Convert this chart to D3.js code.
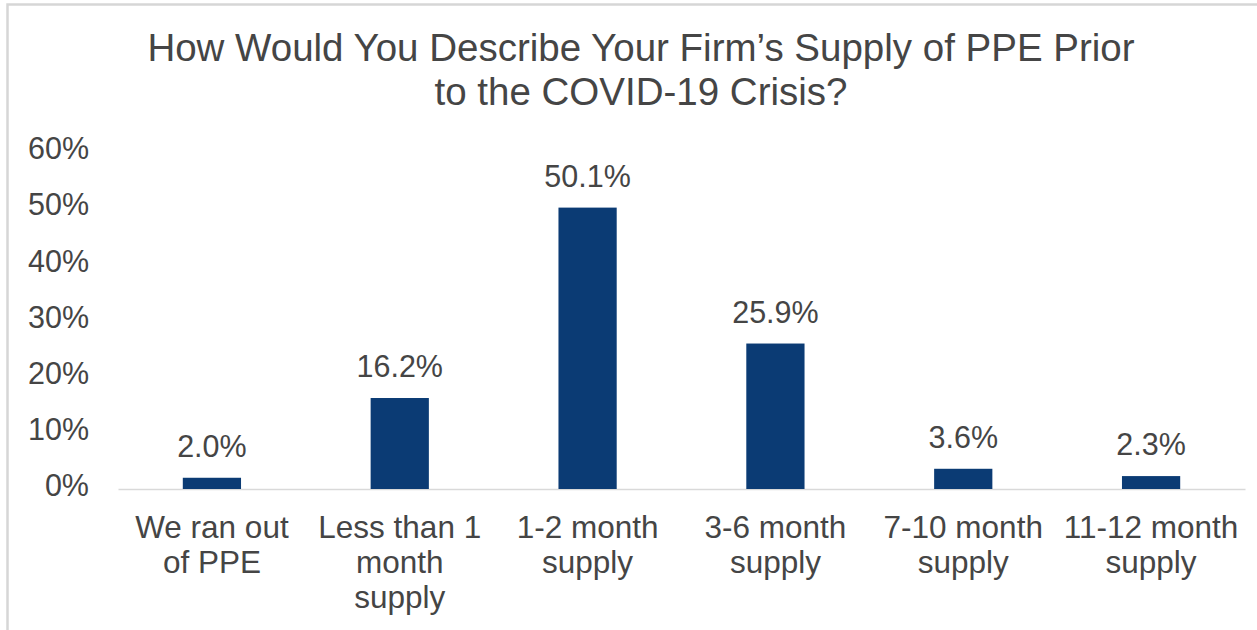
<!DOCTYPE html>
<html>
<head>
<meta charset="utf-8">
<script src="https://cdn.jsdelivr.net/npm/d3@7"></script>
<style>
  html, body { margin: 0; padding: 0; background: #fff; }
  svg { display: block; font-family: "Liberation Sans", Arial, sans-serif; }
</style>
</head>
<body>
<svg id="chart" width="1257" height="630"></svg>
<script>
// ---- data ----
const titleLines = ["How Would You Describe Your Firm\u2019s Supply of PPE Prior", "to the COVID-19 Crisis?"];
const categories = ["We ran out of PPE", "Less than 1 month supply", "1-2 month supply", "3-6 month supply", "7-10 month supply", "11-12 month supply"];
const categoryLines = [
  ["We ran out", "of PPE"],
  ["Less than 1", "month", "supply"],
  ["1-2 month", "supply"],
  ["3-6 month", "supply"],
  ["7-10 month", "supply"],
  ["11-12 month", "supply"]
];
const values = [2.0, 16.2, 50.1, 25.9, 3.6, 2.3];
const yTicks = [0, 10, 20, 30, 40, 50, 60];

// ---- layout ----
const svg = d3.select("#chart");
const W = 1257, H = 630;
const plotLeft = 118, plotRight = 1245, plotTop = 152, plotBottom = 489;
const textColor = "#454545";
const barColor = "#0b3b74";

// frame
svg.append("rect").attr("x", 7.5).attr("y", 4.5).attr("width", W + 10).attr("height", H + 10)
  .attr("fill", "none").attr("stroke", "#d6d6d6").attr("stroke-width", 2.5);

// title
svg.append("text")
  .attr("text-anchor", "middle")
  .attr("fill", textColor)
  .attr("font-size", 38.5)
  .selectAll("tspan").data(titleLines).join("tspan")
  .attr("x", 641).attr("y", (d, i) => 61 + i * 44)
  .text(d => d);

const x = d3.scaleBand().domain(categories).range([plotLeft, plotRight]).paddingInner(0.69).paddingOuter(0.345);
const y = d3.scaleLinear().domain([0, 60]).range([plotBottom, plotTop]);

// y axis
const yAxis = svg.append("g").attr("transform", `translate(${plotLeft},0)`)
  .call(d3.axisLeft(y).tickValues(yTicks).tickSize(0).tickPadding(29).tickFormat(d => d + "%"));
yAxis.select(".domain").remove();
yAxis.selectAll("text").attr("font-size", 30.5).attr("fill", textColor)
  .attr("font-family", "Liberation Sans, Arial, sans-serif").attr("dy", "0.22em");

// x axis baseline
const xAxis = svg.append("g").attr("transform", `translate(0,${plotBottom})`)
  .call(d3.axisBottom(x).tickSize(0).tickFormat(""));
xAxis.select(".domain").attr("stroke", "#d9d9d9").attr("stroke-width", 1.5);
xAxis.selectAll(".tick").remove();

// bars
svg.append("g").selectAll("rect").data(values).join("rect")
  .attr("x", (d, i) => x(categories[i]))
  .attr("width", x.bandwidth())
  .attr("y", d => y(d))
  .attr("height", d => y(0) - y(d))
  .attr("fill", barColor);

// value labels
svg.append("g").selectAll("text").data(values).join("text")
  .attr("x", (d, i) => x(categories[i]) + x.bandwidth() / 2)
  .attr("y", d => y(d) - 21)
  .attr("text-anchor", "middle")
  .attr("font-size", 30.5)
  .attr("fill", textColor)
  .text(d => d3.format(".1f")(d) + "%");

// category labels
const cl = svg.append("g").selectAll("text").data(categories).join("text")
  .attr("text-anchor", "middle")
  .attr("font-size", 31.5)
  .attr("fill", textColor);
cl.selectAll("tspan").data((d, i) => categoryLines[i].map(t => ({ t, c: d }))).join("tspan")
  .attr("x", d => x(d.c) + x.bandwidth() / 2)
  .attr("y", (d, j) => 538 + j * 35)
  .text(d => d.t);
</script>
</body>
</html>
